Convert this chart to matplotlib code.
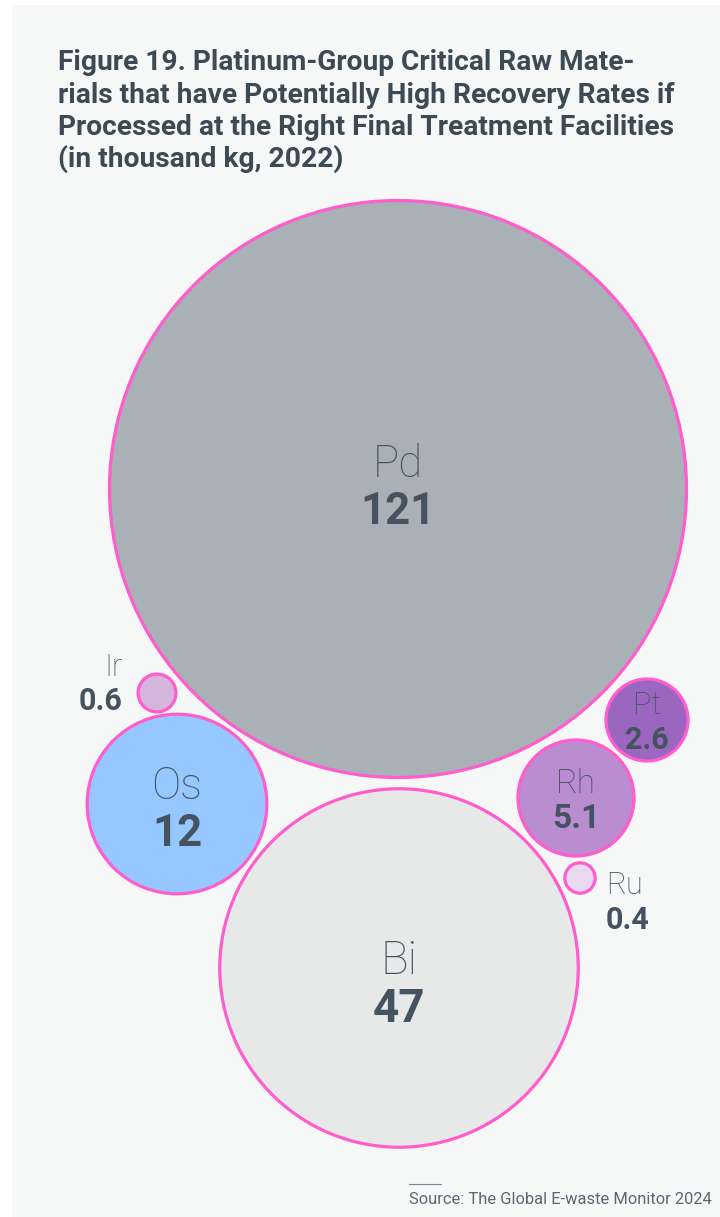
import matplotlib
matplotlib.use("Agg")
import matplotlib.pyplot as plt
from matplotlib.patches import Circle, Rectangle
import numpy as np

# Platinum-group critical raw materials, thousand kg (2022)
elements = ["Pd", "Bi", "Os", "Ir", "Pt", "Rh", "Ru"]
values = [121, 47, 12, 0.6, 2.6, 5.1, 0.4]
value_labels = ["121", "47", "12", "0.6", "2.6", "5.1", "0.4"]

fill_colors = ["#a9b0b6", "#e6e9e7", "#96c8ff", "#d4b6dc", "#9b66c0", "#b98dcf", "#eadaef"]
edge_color = "#ff5ccd"
text_color = "#44535f"
bg_color = "#f6f8f8"

# bubble layout (pixel coordinates of the centres)
centres = [(398, 489), (399, 968), (177, 804), (157, 693), (647, 720), (576, 798), (580, 878)]
# label anchor: (x, y of name, y of value, alignment)
label_pos = [(398, 460, 508, "center"), (399, 956, 1004, "center"), (177, 782, 829, "center"),
             (122, 664, 698, "right"), (647, 702, 737, "center"), (576, 780, 815, "center"),
             (606, 883, 917, "left")]
label_size = [31.5, 33, 31.5, 22, 22, 24, 22]

W, H = 720, 1217
fig = plt.figure(figsize=(W / 100, H / 100), dpi=100)
fig.patch.set_facecolor("white")
ax = fig.add_axes([0, 0, 1, 1])
ax.set_xlim(0, W)
ax.set_ylim(H, 0)
ax.set_aspect("equal")
ax.axis("off")

ax.add_patch(Rectangle((12, 5), W - 12, H - 5, facecolor=bg_color, edgecolor="none", zorder=0))

# radius proportional to sqrt(value) so that bubble area encodes value
k = 290 / np.sqrt(max(values))
radii = [k * np.sqrt(v) for v in values]

light = dict(family=["Roboto", "DejaVu Sans"], fontweight="light", color=text_color)
bold = dict(family=["Roboto", "DejaVu Sans"], fontweight="bold", color=text_color)

for name, v, lab, fc, (cx, cy), r, (lx, ny, vy, ha), fs in zip(
        elements, values, value_labels, fill_colors, centres, radii, label_pos, label_size):
    ax.add_patch(Circle((cx, cy), r - 1.5, facecolor=fc, edgecolor=edge_color, linewidth=2.3, zorder=2))
    ax.text(lx, ny, name, fontsize=fs, ha=ha, va="center_baseline", zorder=3, **light)
    ax.text(lx, vy, lab, fontsize=fs, ha=ha, va="center_baseline", zorder=3, **bold)

renderer = fig.canvas.get_renderer()


def fit_width(txt, target_px):
    w = txt.get_window_extent(renderer=renderer).width
    txt.set_fontsize(txt.get_fontsize() * target_px / w)


title_lines = ["Figure 19. Platinum-Group Critical Raw Mate-",
               "rials that have Potentially High Recovery Rates if",
               "Processed at the Right Final Treatment Facilities",
               "(in thousand kg, 2022)"]
baselines = [70, 103, 135, 167]
tfam = ["Roboto", "DejaVu Sans"]
probe = ax.text(58, 135, title_lines[2], fontsize=18, fontweight="bold", family=tfam)
fit_width(probe, 617)
tsize = probe.get_fontsize()
probe.remove()
for line, yb in zip(title_lines, baselines):
    ax.text(58, yb, line, fontsize=tsize, fontweight="bold", color="#3c4a56", ha="left",
            va="baseline", family=tfam, zorder=3)

ax.plot([409, 441], [1184, 1184], color="#7a848c", linewidth=0.8, zorder=3)
src = ax.text(409, 1204, "Source: The Global E-waste Monitor 2024", fontsize=10, color="#5b6670",
              ha="left", va="baseline", family=["Roboto", "DejaVu Sans"], zorder=3)
fit_width(src, 303)

fig.savefig("out.png", dpi=100, facecolor=fig.get_facecolor())
